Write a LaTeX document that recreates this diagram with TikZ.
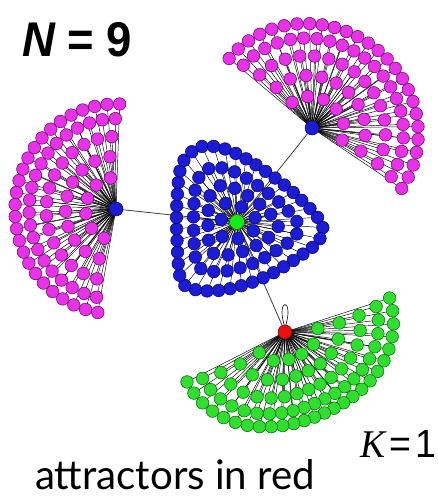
\documentclass[tikz,border=0pt]{standalone}
\usepackage{fontspec}
\usepackage{graphicx}
\usetikzlibrary{decorations.markings}
\newfontfamily\libsans{Liberation Sans}
\newfontfamily\libserif{Liberation Serif}
\newfontfamily\latofont{Lato}
\definecolor{magfill}{RGB}{232,50,232}
\definecolor{magline}{RGB}{100,0,100}
\definecolor{bluefill}{RGB}{28,28,212}
\definecolor{blueline}{RGB}{0,0,100}
\definecolor{grnfill}{RGB}{48,222,48}
\definecolor{grnline}{RGB}{0,100,0}
\definecolor{ctrfill}{RGB}{20,235,20}
\definecolor{redfill}{RGB}{235,15,15}
\tikzset{
  leaf/.style={circle, inner sep=0pt, minimum size=12.6pt, line width=0.5pt},
  magleaf/.style={leaf, fill=magfill, draw=magline},
  blueleaf/.style={leaf, fill=bluefill, draw=blueline},
  grnleaf/.style={leaf, fill=grnfill, draw=grnline},
  hubnode/.style={circle, inner sep=0pt, minimum size=14pt, line width=0.5pt},
  ray/.style={draw=black, line width=0.45pt},
  link/.style={draw=black!75, line width=0.8pt},
  txt/.style={inner sep=0pt, anchor=base west},
}
\newcommand{\ringspec}{0.3/6,0.5/10,0.69/15,0.86/21,1/26}
% outline of the central cluster (relative to its centre)
\newcommand{\bluepath}{plot[smooth cycle, tension=0.55] coordinates {(-37,-75) (-12,-73) (16,-59) (51,-34) (77,-9) (86,7) (79,22) (60,36) (36,51) (13,61) (-14,68) (-40,68) (-56,58) (-60,18) (-60,-22) (-55,-58)}}
% pass 1: leaf positions and rays. #1 hub name, #2 hx, #3 hy, #4 theta1, #5 theta2, #6 R, #7 e
\newcommand{\mkfanpts}[7]{%
  \foreach \fs/\fn [count=\fk] in \ringspec {
    \pgfmathsetmacro\fspn{(#5-(#4))*(0.8+0.2*\fs)}
    \pgfmathsetmacro\fmid{(#5+(#4))/2}
    \foreach \fj in {1,...,\fn} {
      \pgfmathsetmacro\ftq{(\fj-1)/(\fn-1)}
      \pgfmathsetmacro\fth{\fmid-\fspn/2+\ftq*\fspn}
      \pgfmathsetmacro\frr{\fs*#6*(1+#7*cos(360*\ftq))}
      \pgfmathsetmacro\fpx{#2+\frr*cos(\fth)}
      \pgfmathsetmacro\fpy{#3+\frr*sin(\fth)}
      \coordinate (#1-\fk-\fj) at (\fpx,\fpy);
      \draw[ray] (#1) -- (#1-\fk-\fj);
    }
  }%
}
% pass 2: leaf nodes on top. #1 hub name, #2 style
\newcommand{\mkfannodes}[2]{%
  \foreach \fs/\fn [count=\fk] in \ringspec {
    \foreach \fj in {1,...,\fn} {
      \node[#2] (#1n-\fk-\fj) at (#1-\fk-\fj) {};
    }
  }%
}
\begin{document}
\begin{tikzpicture}[x=1pt,y=-1pt]
\useasboundingbox (0,0) rectangle (438,497);
\fill[white] (0,0) rectangle (438,497);
% hubs
\node[hubnode, fill=ctrfill, draw=grnline, minimum size=15pt] (g) at (237,222) {};
\node[hubnode, fill=bluefill, draw=blueline] (lh) at (116,209) {};
\node[hubnode, fill=bluefill, draw=blueline] (th) at (312,128) {};
\node[hubnode, fill=redfill, draw=red!40!black] (rh) at (285,332) {};
% links between hubs
\draw[link] (g) -- (lh);
\draw[link] (g) -- (th);
\draw[link] (g) -- (rh);
% central blue cluster: positions along scaled outlines
\foreach \rs/\rn/\ro [count=\rk] in {1/40/0,0.72/25/0.5,0.48/15/0.25,0.26/7/0.5} {
  \pgfmathsetmacro\rstep{1/\rn}
  \pgfmathsetmacro\rstart{\ro/\rn}
  \pgfmathsetmacro\rend{\rstart+(\rn-0.5)/\rn}
  \path[shift={(237,222)}, scale=\rs, decorate, decoration={markings,
      mark=between positions \rstart\space and \rend\space step \rstep\space with
      {\coordinate (b-\rk-\pgfkeysvalueof{/pgf/decoration/mark info/sequence number});}}]
    \bluepath;
}
\foreach \rn [count=\rk] in {40,25,15,7} {
  \foreach \rj in {1,...,\rn} {
    \draw[ray] (g) -- (b-\rk-\rj);
  }
}
% fans: positions and rays
\mkfanpts{lh}{116}{209}{100}{272}{103}{0.02}
\mkfanpts{th}{312}{128}{-140}{34}{105}{0.03}
\mkfanpts{rh}{285}{332}{-18}{153}{100}{0.1}
% self loop on the attractor
\draw[black, line width=0.6pt] (rh.97) .. controls +(-8,-27) and +(8,-27) .. (rh.83);
% leaf nodes on top
\foreach \rn [count=\rk] in {40,25,15,7} {
  \foreach \rj in {1,...,\rn} {
    \node[blueleaf] (bn-\rk-\rj) at (b-\rk-\rj) {};
  }
}
\mkfannodes{lh}{magleaf}
\mkfannodes{th}{magleaf}
\mkfannodes{rh}{grnleaf}
% texts
\node[txt] (ntxt) at (22,57) {\resizebox{110pt}{34pt}{\libsans\bfseries\itshape N\upshape\ = 9}};
\node[txt] (ktxt) at (360,457) {\resizebox{76pt}{27pt}{\libserif\itshape K\libsans\upshape\hspace{0.12em}=\hspace{0.1em}1}};
\node[txt] (atxt) at (35,489) {\resizebox{280pt}{30pt}{\latofont attractors in red}};
\end{tikzpicture}
\end{document}
